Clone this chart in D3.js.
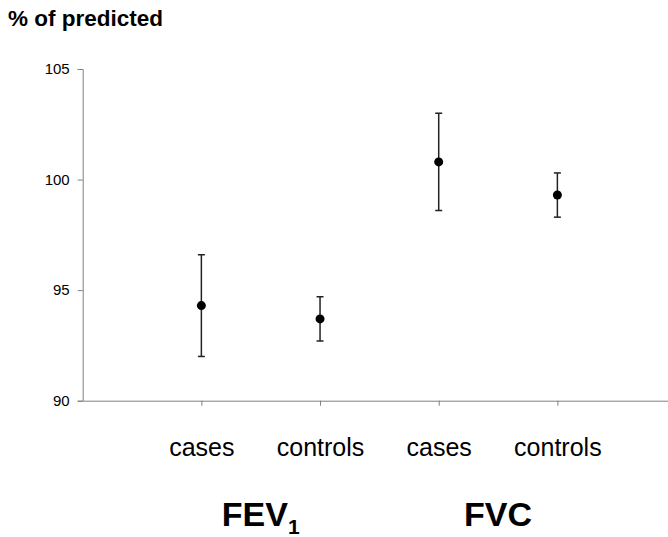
<!DOCTYPE html>
<html>
<head>
<meta charset="utf-8">
<script src="https://cdn.jsdelivr.net/npm/d3@7"></script>
<style>
  body { margin: 0; background: #fff; }
  text { font-family: "Liberation Sans", Arial, sans-serif; }
</style>
</head>
<body>
<svg width="668" height="537"></svg>
<script>
const svg = d3.select('svg');

// data
const groups = ['FEV', 'FVC'];
const categories = ['cases', 'controls', 'cases', 'controls'];
const means = [94.3, 93.7, 100.8, 99.3];
const lower = [92.0, 92.7, 98.6, 98.3];
const upper = [96.6, 94.7, 103.0, 100.3];
const yTicks = [90, 95, 100, 105];

const left = 82.7;
const step = 118.67;

// categories sit on slots 1..4, axis runs out to slot 5 (past the edge)
const x = d3.scaleLinear().domain([0, 5]).range([left, left + step * 5]);
const y = d3.scaleLinear().domain([90, 105]).range([400.7, 69]);

const axisColor = '#808080';

// y axis
const yAxis = svg.append('g')
  .attr('transform', `translate(${left},0)`)
  .call(d3.axisLeft(y).tickValues(yTicks).tickSize(5).tickPadding(8));
yAxis.select('.domain').attr('stroke', axisColor);
yAxis.selectAll('.tick line').attr('stroke', axisColor);
yAxis.selectAll('.tick text').attr('font-size', 15).attr('fill', '#000')
  .style('font-family', '"Liberation Sans", Arial, sans-serif');

// x axis
const xAxis = svg.append('g')
  .attr('transform', `translate(0,${y(90)})`)
  .call(d3.axisBottom(x).tickValues([1, 2, 3, 4]).tickSize(5).tickSizeOuter(0)
    .tickFormat(d => categories[d - 1]).tickPadding(33));
xAxis.select('.domain').attr('stroke', axisColor);
xAxis.selectAll('.tick line').attr('stroke', axisColor);
xAxis.selectAll('.tick text').attr('font-size', 25).attr('fill', '#000')
  .style('font-family', '"Liberation Sans", Arial, sans-serif');

// error bars
const bars = svg.append('g').selectAll('g')
  .data(means.map((m, i) => ({ m, lo: lower[i], hi: upper[i], i })))
  .join('g')
  .attr('stroke', '#222')
  .attr('stroke-width', 1.5);

bars.append('line')
  .attr('x1', d => x(d.i + 1)).attr('x2', d => x(d.i + 1))
  .attr('y1', d => y(d.lo)).attr('y2', d => y(d.hi));
bars.append('line')
  .attr('x1', d => x(d.i + 1) - 3.5).attr('x2', d => x(d.i + 1) + 3.5)
  .attr('y1', d => y(d.hi)).attr('y2', d => y(d.hi));
bars.append('line')
  .attr('x1', d => x(d.i + 1) - 3.5).attr('x2', d => x(d.i + 1) + 3.5)
  .attr('y1', d => y(d.lo)).attr('y2', d => y(d.lo));

// means
svg.append('g').selectAll('circle')
  .data(means)
  .join('circle')
  .attr('cx', (d, i) => x(i + 1))
  .attr('cy', d => y(d))
  .attr('r', 4.5)
  .attr('fill', '#000');

// y title
svg.append('text')
  .attr('x', 8).attr('y', 26)
  .attr('font-size', 22.5).attr('font-weight', 'bold')
  .text('% of predicted');

// group labels
const fev = svg.append('text')
  .attr('x', (x(1) + x(2)) / 2).attr('y', 526)
  .attr('text-anchor', 'middle')
  .attr('font-size', 34).attr('font-weight', 'bold');
fev.append('tspan').text(groups[0]);
fev.append('tspan').attr('font-size', 21).attr('dy', 8).text('1');

svg.append('text')
  .attr('x', (x(3) + x(4)) / 2).attr('y', 526)
  .attr('text-anchor', 'middle')
  .attr('font-size', 34).attr('font-weight', 'bold')
  .text(groups[1]);
</script>
</body>
</html>
